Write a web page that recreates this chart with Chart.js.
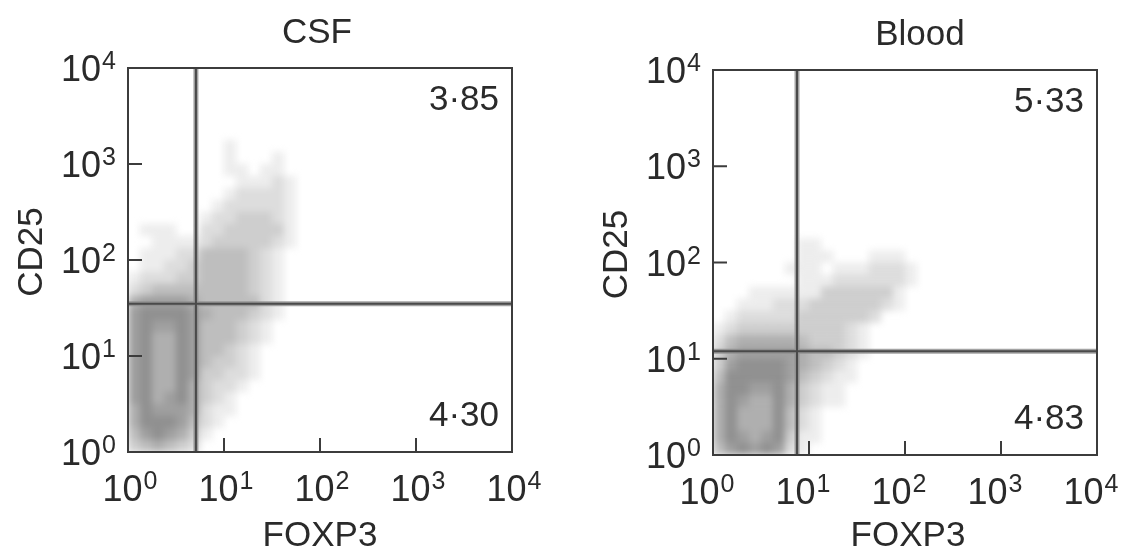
<!DOCTYPE html>
<html>
<head>
<meta charset="utf-8">
<script src="https://cdn.jsdelivr.net/npm/chart.js@4.4.1/dist/chart.umd.min.js"></script>
<style>
  html, body { margin: 0; padding: 0; background: #fff; overflow: hidden; }
  .panel { position: absolute; top: 0; height: 549px; }
  #csfBox { left: 0; width: 564px; }
  #bloodBox { left: 585px; width: 543px; }
</style>
</head>
<body>
<div id="csfBox" class="panel"><canvas id="csfChart"></canvas></div>
<div id="bloodBox" class="panel"><canvas id="bloodChart"></canvas></div>
<script>
const panelTitles = ["CSF", "Blood"];
const axisDecades = [0, 1, 2, 3, 4];     // ticks 10^0 .. 10^4 on both axes
const gateFoxp3 = [5.1, 7.5];            // vertical quadrant gate
const gateCd25 = [35, 12];               // horizontal quadrant gate
const upperRight = ["3·85", "5·33"];
const lowerRight = ["4·30", "4·83"];
const binStep = 0.125;                   // density bin width, in decades

// event density, 0 = empty .. 9 = darkest
// top row first (highest CD25), one digit per FOXP3 bin starting at 10^0
const csfDensity = [
  "0000000010000000",
  "0000000010001000",
  "0000000011011000",
  "0000000001112100",
  "0000000012222100",
  "0000000122222100",
  "0000001223332100",
  "0111002233333100",
  "0011112333332100",
  "0111224444321000",
  "0112234444321000",
  "1222334444321000",
  "2344444444321000",
  "5666654444421000",
  "6777765444321000",
  "6766764443210000",
  "6755764443210000",
  "6755764432100000",
  "6755764332100000",
  "6755763322100000",
  "6755753221000000",
  "6756753210000000",
  "5766652110000000",
  "5777642100000000",
  "4676531000000000",
  "3454320000000000"
];

const bloodDensity = [
  "000000011000000000",
  "000000011100011100",
  "000000111011122210",
  "000000011122222210",
  "000111111333333100",
  "001112223333332100",
  "012222233333320000",
  "123333333332100000",
  "245555543332100000",
  "356666654432100000",
  "367777654321000000",
  "477777643211000000",
  "577667532110000000",
  "576557532110000000",
  "575557421000000000",
  "575557421000000000",
  "576567311000000000",
  "467676210000000000"
];

const FONT = "'Liberation Sans', Arial, Helvetica, sans-serif";
const INK = '#2a2a2a';

// per-panel placement on the page
const panelLayout = [
  { top: 68, bottom: 452, titleShift: -3, labelShift: 2, axisShift: 0 },
  { top: 70, bottom: 455, titleShift: 15, labelShift: -6, axisShift: 3 }
];

function toPoints(rows) {
  const pts = [];
  rows.forEach((row, r) => {
    const j = rows.length - 1 - r;
    [...row].forEach((c, i) => {
      const v = Number(c);
      if (v > 0) {
        pts.push({ x: Math.pow(10, (i + 0.5) * binStep), y: Math.pow(10, (j + 0.5) * binStep), v: v });
      }
    });
  });
  return pts;
}

function grey(v) {
  const g = Math.round(252 - v * 15.5);
  return `rgb(${g},${g},${g})`;
}

function drawPower(ctx, k, px, py, align) {
  ctx.font = `36px ${FONT}`;
  const wb = ctx.measureText('10').width;
  ctx.font = `25px ${FONT}`;
  const we = ctx.measureText(String(k)).width;
  const gap = 1;
  const left = align === 'center' ? px - (wb + gap + we) / 2 : px - wb - gap - we;
  ctx.textAlign = 'left';
  ctx.textBaseline = 'alphabetic';
  ctx.font = `36px ${FONT}`;
  ctx.fillText('10', left, py + 13);
  ctx.font = `25px ${FONT}`;
  ctx.fillText(String(k), left + wb + gap, py + 1);
}

const flowDecor = {
  id: 'flowDecor',
  afterDatasetsDraw(chart) {
    // soften the density bins into a smooth cloud
    const { ctx, chartArea: a, canvas } = chart;
    const tmp = document.createElement('canvas');
    tmp.width = canvas.width;
    tmp.height = canvas.height;
    tmp.getContext('2d').drawImage(canvas, 0, 0);
    ctx.save();
    ctx.clearRect(a.left, a.top, a.right - a.left, a.bottom - a.top);
    ctx.beginPath();
    ctx.rect(a.left, a.top, a.right - a.left, a.bottom - a.top);
    ctx.clip();
    ctx.filter = 'blur(3.5px)';
    ctx.drawImage(tmp, 0, 0, canvas.width, canvas.height, 0, 0, chart.width, chart.height);
    ctx.restore();
  },
  afterDraw(chart, args, opts) {
    const p = opts.panel;
    const lay = panelLayout[p];
    const { ctx, chartArea: a, scales: { x, y } } = chart;
    const midX = (a.left + a.right) / 2;
    ctx.save();

    // quadrant gates
    const gx = x.getPixelForValue(gateFoxp3[p]);
    const gy = y.getPixelForValue(gateCd25[p]);
    [[5, 'rgba(140,140,140,0.8)'], [2, '#4a4a4a']].forEach(([w, c]) => {
      ctx.lineWidth = w;
      ctx.strokeStyle = c;
      ctx.beginPath();
      ctx.moveTo(gx, a.top);
      ctx.lineTo(gx, a.bottom);
      ctx.moveTo(a.left, gy);
      ctx.lineTo(a.right, gy);
      ctx.stroke();
    });

    // frame and inward ticks
    ctx.lineWidth = 2;
    ctx.strokeStyle = '#3c3c3c';
    ctx.strokeRect(a.left, a.top, a.right - a.left, a.bottom - a.top);
    axisDecades.slice(1, -1).forEach(k => {
      const v = Math.pow(10, k);
      const px = x.getPixelForValue(v);
      const py = y.getPixelForValue(v);
      ctx.beginPath();
      ctx.moveTo(px, a.bottom);
      ctx.lineTo(px, a.bottom - 14);
      ctx.moveTo(a.left, py);
      ctx.lineTo(a.left + 14, py);
      ctx.stroke();
    });

    // tick labels
    ctx.fillStyle = INK;
    axisDecades.forEach(k => {
      const v = Math.pow(10, k);
      drawPower(ctx, k, x.getPixelForValue(v) + lay.labelShift, a.bottom + 36, 'center');
      drawPower(ctx, k, a.left - 12, y.getPixelForValue(v), 'right');
    });

    // quadrant percentages
    ctx.font = `35px ${FONT}`;
    ctx.textAlign = 'right';
    ctx.textBaseline = 'alphabetic';
    ctx.fillText(upperRight[p], a.right - 13, a.top + 41.5);
    ctx.fillText(lowerRight[p], a.right - 13, a.bottom - 26.5);

    // titles
    ctx.textAlign = 'center';
    ctx.fillText(panelTitles[p], midX + lay.titleShift, a.top - 25);
    ctx.fillText('FOXP3', midX + lay.axisShift, chart.height - 3);
    ctx.save();
    ctx.translate(29, (a.top + a.bottom) / 2 - 8);
    ctx.rotate(-Math.PI / 2);
    ctx.fillText('CD25', 0, 12.5);
    ctx.restore();

    ctx.restore();
  }
};

function makePanel(canvasId, rows, p) {
  const lay = panelLayout[p];
  const canvas = document.getElementById(canvasId);
  const width = canvas.parentNode.clientWidth;
  return new Chart(canvas, {
    type: 'scatter',
    data: {
      datasets: [{
        data: toPoints(rows),
        pointStyle: 'rect',
        borderWidth: 0,
        pointRadius: ctx => {
          const sx = ctx.chart.scales.x;
          const cell = sx.getPixelForValue(Math.pow(10, binStep)) - sx.getPixelForValue(1);
          return cell * 0.72;
        },
        backgroundColor: ctx => grey(ctx.raw ? ctx.raw.v : 0)
      }]
    },
    options: {
      responsive: true,
      maintainAspectRatio: false,
      animation: false,
      events: [],
      layout: {
        padding: { left: 128, right: width - 512, top: lay.top, bottom: 549 - lay.bottom }
      },
      scales: {
        x: { type: 'logarithmic', min: 1, max: 10000, display: false },
        y: { type: 'logarithmic', min: 1, max: 10000, display: false }
      },
      plugins: {
        legend: { display: false },
        tooltip: { enabled: false },
        flowDecor: { panel: p }
      }
    },
    plugins: [flowDecor]
  });
}

makePanel('csfChart', csfDensity, 0);
makePanel('bloodChart', bloodDensity, 1);
</script>
</body>
</html>
